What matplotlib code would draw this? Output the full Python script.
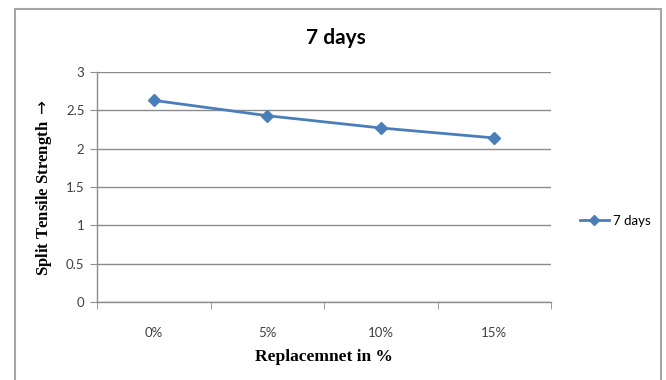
import matplotlib
matplotlib.use("Agg")
import matplotlib.pyplot as plt
from matplotlib.patches import Rectangle
from matplotlib.lines import Line2D

categories = ["0%", "5%", "10%", "15%"]
strength_7days = [2.63, 2.43, 2.27, 2.14]
yticks = [0, 0.5, 1, 1.5, 2, 2.5, 3]
series_name = "7 days"

line_color = "#4a7ebb"
grid_color = "#8c8c8c"
sans = ["Lato", "DejaVu Sans"]
serif = ["Liberation Serif", "DejaVu Serif"]

fig = plt.figure(figsize=(6.66, 3.80), dpi=100)
fig.patch.set_facecolor("white")

# chart frame
fig.patches.append(Rectangle((15 / 666, -0.05), (661 - 15) / 666, 1.05 - 9 / 380,
                             transform=fig.transFigure, fill=False,
                             edgecolor="#a6a6a6", linewidth=1.5))

ax = fig.add_axes([97 / 666, (380 - 302) / 380, (551 - 97) / 666, (302 - 72) / 380])
x = list(range(len(categories)))
ax.plot(x, strength_7days, color=line_color, linewidth=2, marker="D",
        markersize=6.5, markeredgecolor=line_color, markerfacecolor=line_color,
        clip_on=False, zorder=3)

ax.set_xlim(-0.5, len(categories) - 0.5)
ax.set_ylim(0, 3)
ax.set_yticks(yticks)
ax.set_yticklabels([f"{v:g}" for v in yticks], fontfamily=sans, fontsize=9.5, color="#404040")
ax.set_xticks(x)
ax.set_xticklabels(categories, fontfamily=sans, fontsize=9.5, color="#404040")
ax.tick_params(axis="x", length=0, pad=18)
ax.set_xticks([i - 0.5 for i in range(len(categories) + 1)], minor=True)
ax.tick_params(axis="x", which="minor", length=5, color=grid_color, direction="out")
ax.tick_params(axis="y", length=5, color=grid_color, direction="out", pad=4)

ax.grid(axis="y", color=grid_color, linewidth=1)
ax.set_axisbelow(True)
for s in ["top", "right"]:
    ax.spines[s].set_visible(False)
for s in ["left", "bottom"]:
    ax.spines[s].set_color(grid_color)
    ax.spines[s].set_linewidth(1)

fig.text(336 / 666, 1 - 38 / 380, "7 days", ha="center", va="center",
         fontfamily=sans, fontweight="bold", fontsize=15, color="black")
fig.text(44 / 666, 1 - 188 / 380, r"Split Tensile Strength $\rightarrow$", ha="center",
         va="center", rotation=90, fontfamily=serif, fontweight="bold", fontsize=12,
         color="black")
fig.text(324 / 666, 1 - 357 / 380, "Replacemnet in %", ha="center", va="center",
         fontfamily=serif, fontweight="bold", fontsize=12.5, color="black")

handle = Line2D([], [], color=line_color, linewidth=2, marker="D", markersize=5,
                markeredgecolor=line_color, markerfacecolor=line_color)
fig.legend([handle], [series_name], loc="center left",
           bbox_to_anchor=(568 / 666, 1 - 221 / 380), frameon=False,
           prop={"family": sans, "size": 9.5}, handlelength=2.2, handletextpad=0.3)

fig.savefig("out.png", dpi=100, facecolor="white")
